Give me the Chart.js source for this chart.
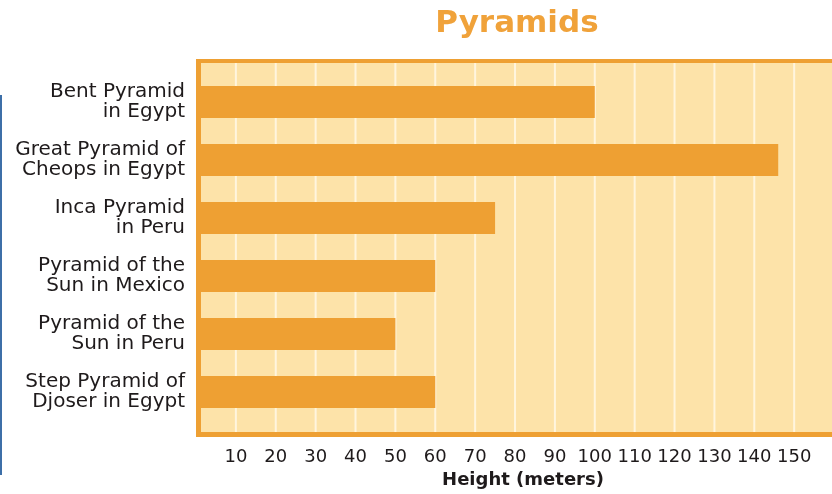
<!DOCTYPE html>
<html>
<head>
<meta charset="utf-8">
<script src="https://cdn.jsdelivr.net/npm/chart.js@4.4.0/dist/chart.umd.min.js"></script>
<style>
  html, body { margin: 0; padding: 0; background: #fff; overflow: hidden; }
  #wrap { position: relative; width: 832px; height: 494px; overflow: hidden; }
  #chart { position: absolute; left: 0; top: 0; }
  /* edge of the neighbouring page in the scan */
  .edge { position: absolute; left: 0; top: 95px; width: 2px; height: 380px; background: #3d6fa8; }
</style>
</head>
<body>
<div id="wrap">
  <canvas id="chart" width="870" height="494"></canvas>
  <div class="edge"></div>
</div>
<script>
const PYRAMIDS = [
  ["Bent Pyramid", "in Egypt"],
  ["Great Pyramid of", "Cheops in Egypt"],
  ["Inca Pyramid", "in Peru"],
  ["Pyramid of the", "Sun in Mexico"],
  ["Pyramid of the", "Sun in Peru"],
  ["Step Pyramid of", "Djoser in Egypt"],
];
const HEIGHTS = [100, 146, 75, 60, 50, 60];
const TICK_VALUES = [10, 20, 30, 40, 50, 60, 70, 80, 90, 100, 110, 120, 130, 140, 150];
const GRID_VALUES = [10, 20, 30, 40, 50, 60, 70, 80, 90, 100, 110, 120, 130, 140, 150, 160];

const ORANGE = "#eea033";
const FIELD = "#fde3a9";
const GRID = "#fff5de";
const TEXT = "#1e1a1b";
const FONT = "'DejaVu Sans', sans-serif";

// orange frame, pale field, vertical rules and the title
const framePlugin = {
  id: "frame",
  beforeDatasetsDraw(chart) {
    const ctx = chart.ctx;
    const x = chart.scales.x;
    const { top, bottom } = chart.chartArea;
    const left = x.getPixelForValue(0);
    ctx.save();
    ctx.fillStyle = ORANGE;
    ctx.fillRect(left, top - 14, chart.width - left, bottom - top + 30);
    ctx.fillStyle = FIELD;
    ctx.fillRect(left + 5, top - 10, chart.width, bottom - top + 21);
    ctx.fillStyle = GRID;
    GRID_VALUES.forEach((v) => {
      const px = x.getPixelForValue(v);
      ctx.fillRect(px - 1, top - 10, 2, bottom - top + 21);
    });
    ctx.restore();
  },
  afterDraw(chart) {
    const ctx = chart.ctx;
    ctx.save();
    ctx.fillStyle = "#f0a23a";
    ctx.font = "bold 31px " + FONT;
    ctx.textAlign = "center";
    ctx.textBaseline = "alphabetic";
    ctx.fillText("Pyramids", chart.chartArea.left + 321, 32);
    ctx.restore();
  },
};

new Chart(document.getElementById("chart"), {
  type: "bar",
  data: {
    labels: PYRAMIDS,
    datasets: [{
      data: HEIGHTS,
      backgroundColor: ORANGE,
      borderWidth: 0,
      barPercentage: 0.55,
      categoryPercentage: 1,
    }],
  },
  plugins: [framePlugin],
  options: {
    indexAxis: "y",
    responsive: false,
    animation: false,
    layout: { padding: { top: 73, right: 20, bottom: 0, left: 0 } },
    plugins: {
      legend: { display: false },
      title: { display: false },
      tooltip: { enabled: false },
    },
    scales: {
      x: {
        min: 0,
        max: 164,
        grid: { display: false, drawTicks: false },
        border: { display: false },
        afterBuildTicks: (axis) => { axis.ticks = TICK_VALUES.map((v) => ({ value: v })); },
        afterFit: (axis) => { axis.height = 73; },
        ticks: {
          autoSkip: false,
          maxRotation: 0,
          padding: 26,
          color: TEXT,
          font: { family: FONT, size: 18 },
        },
        title: {
          display: true,
          text: "Height (meters)",
          color: TEXT,
          font: { family: FONT, size: 18, weight: "bold" },
          padding: { top: 0, bottom: 3 },
        },
      },
      y: {
        grid: { display: false, drawTicks: false },
        border: { display: false },
        afterFit: (axis) => { axis.width = 196; },
        ticks: {
          padding: 11,
          color: TEXT,
          font: { family: FONT, size: 20, lineHeight: 1.0 },
        },
      },
    },
  },
});
</script>
</body>
</html>
